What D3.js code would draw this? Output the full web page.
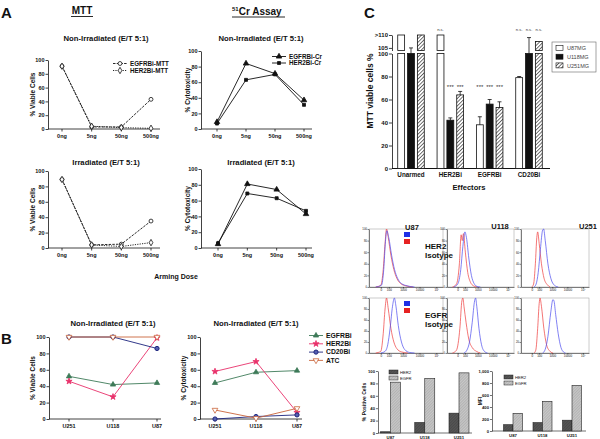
<!DOCTYPE html>
<html><head><meta charset="utf-8">
<script src="https://cdn.jsdelivr.net/npm/d3@7"></script>
<style>
body{margin:0;background:#fff}
svg{display:block}
text{font-family:"Liberation Sans",Arial,Helvetica,sans-serif}
</style>
</head><body>
<svg id="c" width="600" height="439"></svg>
<script>
// ---------------- DATA ----------------
const doses = ["0ng","5ng","50ng","500ng"];
const yTicks100 = [0,20,40,60,80,100];
const mttNonIrrEGFR = [91,3,3,43];
const mttNonIrrHER2 = [91,4,2,1];
const crNonIrrEGFR  = [9,84,71,37];
const crNonIrrHER2  = [7,63,70,31];
const mttIrrEGFR    = [89,4,5,35];
const mttIrrHER2    = [89,4,2,7];
const crIrrEGFR     = [5,81,74,43];
const crIrrHER2     = [6,69,63,47];

const cellLinesB = ["U251","U118","U87"];
const viableEGFRBi = [52,42,44];
const viableHER2Bi = [46,27,99];
const viableCD20Bi = [100,100,86];
const viableATC    = [100,100,100];
const cytoEGFRBi = [44,57,59];
const cytoHER2Bi = [58,70,8];
const cytoCD20Bi = [0,3,5];
const cytoATC    = [11,1,13];
const effectorLegend = ["EGFRBi","HER2Bi","CD20Bi","ATC"];

const effectors = ["Unarmed","HER2Bi","EGFRBi","CD20Bi"];
const cLines = ["U87MG","U118MG","U251MG"];
const mttU87  = [110,110,38,79];
const mttU87Err  = [0,0,7,1];
const mttU118 = [100,42,56,100];
const mttU118Err = [5,2,4,9];
const mttU251 = [110,64,53,107.5];
const mttU251Err = [0,3,5,0];
const sigU87  = ["","n.s.","***","n.s."];
const sigU118 = ["","***","***","n.s."];
const sigU251 = ["","***","***","n.s."];
const cTicksLow = [0,20,40,60,80,100];
const cTicksHigh = [105,110];

const flowCols = ["U87","U118","U251"];
const flowRows = ["HER2","EGFR"];
const flowTicks = [0,100,1000,10000,100000];
const flowYTicks = [0,20,40,60,80,100];
// [intensity, % of max]
const isoHER2_U87  = [[-50,0],[0,3],[20,30],[40,75],[60,100],[90,85],[150,55],[250,30],[400,15],[700,6],[1500,2],[4000,0]];
const HER2_U87     = [[-50,0],[5,3],[25,30],[45,78],[65,97],[100,85],[170,55],[280,30],[450,15],[800,6],[1800,2],[5000,0]];
const isoEGFR_U87  = [[-50,0],[0,3],[20,35],[40,80],[60,100],[90,80],[150,45],[250,20],[400,8],[800,2],[2000,0]];
const EGFR_U87     = [[0,0],[40,3],[80,15],[130,45],[200,85],[270,100],[350,85],[500,50],[800,20],[1300,6],[2500,1],[5000,0]];
const isoHER2_U118 = [[-60,0],[-10,5],[15,40],[35,90],[50,80],[70,92],[110,60],[180,25],[300,8],[500,2],[900,0]];
const HER2_U118    = [[-40,0],[0,5],[30,30],[60,70],[100,95],[140,85],[220,50],[350,20],[550,6],[900,1],[1500,0]];
const isoEGFR_U118 = [[-60,0],[-10,5],[20,45],[45,95],[60,100],[80,85],[130,55],[220,25],[400,10],[800,3],[1500,0]];
const EGFR_U118    = [[80,0],[150,5],[250,20],[400,55],[600,95],[700,100],[850,85],[1200,45],[1800,15],[2800,3],[4500,0]];
const isoHER2_U251 = [[0,0],[15,5],[35,40],[55,85],[70,95],[100,75],[160,40],[260,15],[450,4],[700,0]];
const HER2_U251    = [[20,0],[45,5],[80,25],[130,65],[200,98],[240,100],[320,80],[500,40],[800,15],[1400,3],[2500,0]];
const isoEGFR_U251 = [[20,0],[40,5],[70,45],[100,90],[120,100],[160,85],[250,45],[400,15],[650,4],[1100,0]];
const EGFR_U251    = [[200,0],[300,5],[500,30],[800,75],[1100,97],[1300,95],[1700,70],[2500,35],[3800,10],[5500,2],[7500,0]];

const posCells = ["U87","U118","U251"];
const posHER2 = [2,17,32];
const posEGFR = [82,88,97];
const mfiHER2 = [105,140,180];
const mfiEGFR = [295,495,760];
const mfiTicks = [0,200,400,600,800,1000];

// ---------------- DRAW ----------------
const svg = d3.select("#c");
const defs = svg.append("defs");
const hp = defs.append("pattern").attr("id","hatch").attr("width",2.6).attr("height",2.6)
  .attr("patternUnits","userSpaceOnUse").attr("patternTransform","rotate(45)");
hp.append("rect").attr("width",2.6).attr("height",2.6).attr("fill","#fff");
hp.append("line").attr("x1",0).attr("y1",0).attr("x2",0).attr("y2",2.6).attr("stroke","#000").attr("stroke-width",1.1);
function texPat(id, base, line){
  const p = defs.append("pattern").attr("id",id).attr("width",2).attr("height",2)
    .attr("patternUnits","userSpaceOnUse").attr("patternTransform","rotate(45)");
  p.append("rect").attr("width",2).attr("height",2).attr("fill",base);
  p.append("line").attr("x1",0).attr("y1",0).attr("x2",0).attr("y2",2).attr("stroke",line).attr("stroke-width",0.7);
}
texPat("dark","#4a4a4a","#707070");
texPat("light","#c8c8c8","#8c8c8c");

function T(x,y,s,size,o={}){
  const t = svg.append("text").attr("x",x).attr("y",y).attr("font-size",size)
    .attr("font-weight",o.normal?null:"bold").attr("fill",o.fill||"#111")
    .attr("text-anchor",o.anchor||"start").text(s);
  if(o.rot) t.attr("transform",`rotate(-90,${x},${y})`);
  return t;
}
function styleAxis(g, fs){
  g.selectAll("path,line").attr("stroke","#111").attr("stroke-width",0.8);
  g.selectAll("text").attr("font-size",fs).attr("font-weight","bold").attr("fill","#111")
    .attr("font-family",'"Liberation Sans",Arial,sans-serif');
}

// panel labels
T(1,18,"A",15);
T(1,344,"B",15);
T(364,18,"C",15);
T(82,14,"MTT",10,{anchor:"middle"});
svg.append("line").attr("x1",71).attr("x2",93).attr("y1",16.5).attr("y2",16.5).attr("stroke","#111").attr("stroke-width",0.9);
const cr = svg.append("text").attr("x",232).attr("y",15).attr("font-weight","bold").attr("fill","#111");
cr.append("tspan").attr("font-size",6).attr("dy",-4).text("51");
cr.append("tspan").attr("font-size",10).attr("dy",4).text("Cr Assay");
svg.append("line").attr("x1",232).attr("x2",285).attr("y1",17).attr("y2",17).attr("stroke","#111").attr("stroke-width",0.9);

function lineChart(o){
  const x = d3.scalePoint().domain(o.cats).range(o.xr);
  const y = d3.scaleLinear().domain([0,100]).range(o.yr);
  const ga = svg.append("g").attr("transform",`translate(${o.ax},0)`)
    .call(d3.axisLeft(y).tickValues(yTicks100).tickSize(2.5).tickSizeOuter(0).tickPadding(1));
  styleAxis(ga, o.tfs||5.5);
  svg.append("line").attr("x1",o.ax).attr("x2",o.axEnd).attr("y1",y(0)).attr("y2",y(0))
    .attr("stroke","#111").attr("stroke-width",0.8);
  o.cats.forEach(c=>{
    svg.append("line").attr("x1",x(c)).attr("x2",x(c)).attr("y1",y(0)).attr("y2",y(0)+2.5)
      .attr("stroke","#111").attr("stroke-width",0.8);
    T(x(c), y(0)+9, c, o.tfs||5.5, {anchor:"middle"});
  });
  T(o.titleX, o.titleY, o.title, o.titleFs||7.7, {anchor:"middle"});
  T(o.ylx, (o.yr[0]+o.yr[1])/2, o.ylabel, 6.5, {anchor:"middle", rot:true});
  const line = d3.line().x((d,i)=>x(o.cats[i])).y(d=>y(d));
  o.series.forEach(s=>{
    svg.append("path").attr("d",line(s.values)).attr("fill","none").attr("stroke",s.color)
      .attr("stroke-width",s.sw||0.9).attr("stroke-dasharray",s.dash||null);
  });
  o.series.forEach(s=>{
    s.values.forEach((v,i)=>{
      svg.append("path").attr("d",d3.symbol().type(s.sym).size(s.size||14)())
        .attr("transform",`translate(${x(o.cats[i])},${y(v)})${s.rot?` rotate(${s.rot})`:""}`)
        .attr("fill",s.fill).attr("stroke",s.color).attr("stroke-width",s.msw||0.8);
    });
  });
  return {x,y};
}
function legend(items, x, y0, dy, fs){
  items.forEach((s,i)=>{
    const yy = y0 + i*dy;
    svg.append("line").attr("x1",x-7).attr("x2",x+7).attr("y1",yy).attr("y2",yy)
      .attr("stroke",s.color).attr("stroke-width",s.sw||0.9).attr("stroke-dasharray",s.dash||null);
    svg.append("path").attr("d",d3.symbol().type(s.sym).size(s.size||14)())
      .attr("transform",`translate(${x},${yy})${s.rot?` rotate(${s.rot})`:""}`)
      .attr("fill",s.fill).attr("stroke",s.color).attr("stroke-width",s.msw||0.8);
    T(x+10, yy+2.2, s.name, fs);
  });
}

// Panel A
const mttE = {name:"EGFRBi-MTT", color:"#111", dash:"2.5,1.2", sym:d3.symbolCircle, size:12, fill:"#fff"};
const mttH = {name:"HER2Bi-MTT", color:"#111", dash:"1.2,1.2", sym:d3.symbolDiamond, size:12, fill:"#fff"};
const crE = {name:"EGFRBi-Cr", color:"#111", sym:d3.symbolTriangle, size:13, fill:"#111"};
const crH = {name:"HER2Bi-Cr", color:"#111", sym:d3.symbolSquare, size:9, fill:"#111"};

lineChart({cats:doses, xr:[62,151], yr:[129,60], ax:48, axEnd:160, title:"Non-Irradiated (E/T 5:1)",
  titleX:106, titleY:41, ylabel:"% Viable Cells", ylx:35,
  series:[{...mttE, values:mttNonIrrEGFR},{...mttH, values:mttNonIrrHER2}]});
legend([mttE, mttH], 120, 63.5, 7, 6.3);

lineChart({cats:doses, xr:[217,304], yr:[129,51], ax:201, axEnd:312, title:"Non-Irradiated (E/T 5:1)",
  titleX:261, titleY:41, ylabel:"% Cytotoxicity", ylx:190,
  series:[{...crE, values:crNonIrrEGFR},{...crH, values:crNonIrrHER2}]});
legend([crE, crH], 279, 56.5, 6.5, 6.3);

lineChart({cats:doses, xr:[62,151], yr:[248,171], ax:48, axEnd:160, title:"Irradiated (E/T 5:1)",
  titleX:106, titleY:165, ylabel:"% Viable Cells", ylx:35,
  series:[{...mttE, values:mttIrrEGFR},{...mttH, values:mttIrrHER2}]});

lineChart({cats:doses, xr:[218,306], yr:[248,169], ax:201, axEnd:312, title:"Irradiated (E/T 5:1)",
  titleX:261, titleY:165, ylabel:"% Cytotoxicity", ylx:190,
  series:[{...crE, values:crIrrEGFR},{...crH, values:crIrrHER2}]});
T(176,279,"Arming Dose",7,{anchor:"middle"});

// Panel B
const bE = {name:"EGFRBi", color:"#3d7a58", sym:d3.symbolTriangle, size:12, fill:"#3d7a58"};
const bH = {name:"HER2Bi", color:"#e8306a", sym:d3.symbolStar, size:12, fill:"#e8306a"};
const bC = {name:"CD20Bi", color:"#1c247e", sym:d3.symbolCircle, size:14, fill:"#5660b0", msw:1};
const bA = {name:"ATC", color:"#c9643a", sym:d3.symbolTriangle, size:14, fill:"#fff", rot:180};
lineChart({cats:cellLinesB, xr:[69,157], yr:[419,337], ax:49, axEnd:161, title:"Non-Irradiated (E/T 5:1)",
  titleX:113, titleY:326, ylabel:"% Viable Cells", ylx:35,
  series:[{...bE, values:viableEGFRBi},{...bH, values:viableHER2Bi},{...bC, values:viableCD20Bi},{...bA, values:viableATC}]});
lineChart({cats:cellLinesB, xr:[215,297], yr:[419,337], ax:200, axEnd:302, title:"Non-Irradiated (E/T 5:1)",
  titleX:256, titleY:326, ylabel:"% Cytotoxicity", ylx:186,
  series:[{...bE, values:cytoEGFRBi},{...bH, values:cytoHER2Bi},{...bC, values:cytoCD20Bi},{...bA, values:cytoATC}]});
legend([bE,bH,bC,bA].map((s,i)=>({...s,name:effectorLegend[i]})), 316, 335.5, 8.3, 6.8);

// Panel C - bar chart with broken axis
(function(){
  const axX = 392;
  const yLow = d3.scaleLinear().domain([0,100]).range([168.5,53.5]);
  const yHigh = d3.scaleLinear().domain([104,110]).range([50.5,35]);
  const xg = d3.scalePoint().domain(effectors).range([411,529]);
  const xi = d3.scaleBand().domain(cLines).range([-14.25,14.25]).paddingInner(0.3).paddingOuter(0.1);
  const ga = svg.append("g").attr("transform",`translate(${axX},0)`)
    .call(d3.axisLeft(yLow).tickValues(cTicksLow).tickSize(3).tickSizeOuter(0).tickPadding(1));
  styleAxis(ga,6);
  const gb = svg.append("g").attr("transform",`translate(${axX},0)`)
    .call(d3.axisLeft(yHigh).tickValues(cTicksHigh).tickSize(3).tickSizeOuter(0).tickPadding(1)
      .tickFormat(d=>d===110?">110":d));
  styleAxis(gb,6);
  svg.append("line").attr("x1",axX).attr("x2",550).attr("y1",yLow(0)).attr("y2",yLow(0)).attr("stroke","#111").attr("stroke-width",1);
  const fills = ["#fff","#111","url(#hatch)"];
  const vals = [mttU87, mttU118, mttU251];
  const errs = [mttU87Err, mttU118Err, mttU251Err];
  const sigs = [sigU87, sigU118, sigU251];
  effectors.forEach((e,gi)=>{
    cLines.forEach((c,ci)=>{
      const v = vals[ci][gi], er = errs[ci][gi];
      const bx = xg(e)+xi(c), bw = xi.bandwidth(), cx = bx+bw/2;
      const top = Math.min(v,100);
      svg.append("rect").attr("x",bx).attr("y",yLow(top)).attr("width",bw).attr("height",yLow(0)-yLow(top))
        .attr("fill",fills[ci]).attr("stroke","#111").attr("stroke-width",0.8);
      if(v>104){
        svg.append("rect").attr("x",bx).attr("y",yHigh(v)).attr("width",bw).attr("height",yHigh(104)-yHigh(v))
          .attr("fill",fills[ci]).attr("stroke","#111").attr("stroke-width",0.8);
      }
      if(er>0){
        const tv = v+er;
        const ty = tv>100 ? yHigh(tv) : yLow(tv);
        const by = v>104 ? yHigh(v) : yLow(v);
        svg.append("line").attr("x1",cx).attr("x2",cx).attr("y1",by).attr("y2",ty).attr("stroke","#111").attr("stroke-width",0.8);
        svg.append("line").attr("x1",cx-2).attr("x2",cx+2).attr("y1",ty).attr("y2",ty).attr("stroke","#111").attr("stroke-width",0.8);
      }
      const s = sigs[ci][gi];
      if(s){
        T(cx, s==="n.s."?31:89, s, s==="n.s."?4.2:6, {anchor:"middle", normal:true, fill:"#333"});
      }
    });
    T(xg(e), 177, e, 6.3, {anchor:"middle"});
  });
  T(373, 91, "MTT viable cells %", 8.5, {anchor:"middle", rot:true});
  T(469, 190, "Effectors", 7.6, {anchor:"middle"});
  // legend
  svg.append("rect").attr("x",552).attr("y",42).attr("width",44).attr("height",30).attr("fill","#fff").attr("stroke","#666").attr("stroke-width",0.6);
  cLines.forEach((c,i)=>{
    svg.append("rect").attr("x",556).attr("y",45.5+i*8.7).attr("width",7).attr("height",5)
      .attr("fill",fills[i]).attr("stroke","#111").attr("stroke-width",0.6);
    T(567, 50.3+i*8.7, c, 5.5, {normal:true, fill:"#444"});
  });
})();

// Flow cytometry histograms
(function(){
  const colR = [[369,443],[447,514],[521,589]];
  const rowR = [[287,229],[353,298]];
  const curves = [
    [[isoHER2_U87, HER2_U87],[isoHER2_U118, HER2_U118],[isoHER2_U251, HER2_U251]],
    [[isoEGFR_U87, EGFR_U87],[isoEGFR_U118, EGFR_U118],[isoEGFR_U251, EGFR_U251]]
  ];
  flowRows.forEach((r,ri)=>{
    flowCols.forEach((c,ci)=>{
      const x = d3.scaleSymlog().constant(50).domain([-200,250000]).range(colR[ci]);
      const y = d3.scaleLinear().domain([0,100]).range(rowR[ri]);
      svg.append("rect").attr("x",colR[ci][0]).attr("y",rowR[ri][1]).attr("width",colR[ci][1]-colR[ci][0])
        .attr("height",rowR[ri][0]-rowR[ri][1]).attr("fill","none").attr("stroke","#999").attr("stroke-width",0.5);
      const gy = svg.append("g").attr("transform",`translate(${colR[ci][0]},0)`)
        .call(d3.axisLeft(y).tickValues(flowYTicks).tickSize(1.5).tickSizeOuter(0).tickPadding(0.5));
      styleAxis(gy,2.8); gy.selectAll("text").attr("font-weight",null);
      gy.selectAll("path,line").attr("stroke-width",0.5);
      const gx = svg.append("g").attr("transform",`translate(0,${rowR[ri][0]})`)
        .call(d3.axisBottom(x).tickValues(flowTicks).tickSize(1.5).tickSizeOuter(0).tickPadding(0.5)
          .tickFormat(d=>d===100000?"10⁵":d));
      styleAxis(gx,3); gx.selectAll("text").attr("font-weight",null);
      gx.selectAll("path,line").attr("stroke-width",0.5);
      const ln = d3.line().x(d=>x(d[0])).y(d=>y(d[1])).curve(d3.curveMonotoneX);
      const [iso, ab] = curves[ri][ci];
      svg.append("path").attr("d",ln(iso)).attr("fill","none").attr("stroke","#ee3b3b").attr("stroke-width",0.7);
      svg.append("path").attr("d",ln(ab)).attr("fill","none").attr("stroke","#4b4bee").attr("stroke-width",0.7);
    });
  });
  T(412,230,"U87",7.5,{anchor:"middle"});
  T(500,229,"U118",7.5,{anchor:"middle"});
  T(588,229,"U251",7.5,{anchor:"middle"});
  [0,1].forEach(ri=>{
    const y0 = ri===0?232:301;
    svg.append("rect").attr("x",404).attr("y",y0).attr("width",6).attr("height",5).attr("fill","#1e2fe6");
    svg.append("rect").attr("x",404).attr("y",y0+7).attr("width",6).attr("height",5).attr("fill","#e62222");
    T(425, ri===0?249:318, flowRows[ri], 8);
    T(425, ri===0?257.5:326.5, "Isotype", 8);
  });
})();

// bottom bar charts
function smallBars(o){
  const y = d3.scaleLinear().domain([0,o.max]).range(o.yr);
  const xg = d3.scalePoint().domain(posCells).range(o.xr);
  const ga = svg.append("g").attr("transform",`translate(${o.ax},0)`)
    .call(d3.axisLeft(y).tickValues(o.ticks).tickSize(2).tickSizeOuter(0).tickPadding(1));
  styleAxis(ga,4.2);
  ga.selectAll("path,line").attr("stroke-width",0.6);
  svg.append("line").attr("x1",o.ax).attr("x2",o.axEnd).attr("y1",y(0)).attr("y2",y(0)).attr("stroke","#111").attr("stroke-width",0.6);
  posCells.forEach((c,i)=>{
    [[o.a,"url(#dark)",-o.bw],[o.b,"url(#light)",0]].forEach(([arr,f,off])=>{
      svg.append("rect").attr("x",xg(c)+off).attr("y",y(arr[i])).attr("width",o.bw).attr("height",y(0)-y(arr[i]))
        .attr("fill",f).attr("stroke","#222").attr("stroke-width",0.6);
    });
    T(xg(c), y(0)+6, c, 4.3, {anchor:"middle"});
  });
  T(o.lx, (o.yr[0]+o.yr[1])/2, o.label, 5, {anchor:"middle", rot:true});
  ["HER2","EGFR"].forEach((n,i)=>{
    svg.append("rect").attr("x",o.legX).attr("y",o.legY+i*6).attr("width",9).attr("height",4)
      .attr("fill",i?"url(#light)":"url(#dark)").attr("stroke","#222").attr("stroke-width",0.5);
    T(o.legX+11, o.legY+i*6+3.8, n, 4.2, {normal:true});
  });
}
smallBars({a:posHER2, b:posEGFR, max:100, yr:[433,371], xr:[390.5,459], ax:378, axEnd:472, bw:10,
  ticks:[0,20,40,60,80,100], label:"% Positive Cells", lx:366, legX:389, legY:370});
smallBars({a:mfiHER2, b:mfiEGFR, max:1000, yr:[431,371], xr:[513,572], ax:492, axEnd:586, bw:9.5,
  ticks:mfiTicks, label:"MFI", lx:482, legX:504, legY:375});
</script>
</body></html>
